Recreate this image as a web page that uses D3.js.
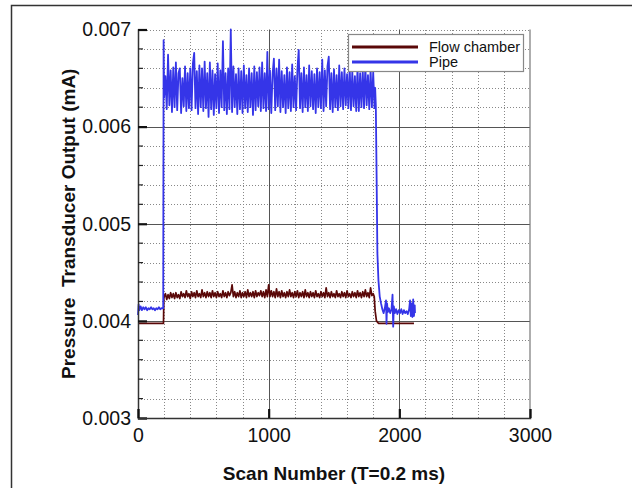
<!DOCTYPE html>
<html>
<head>
<meta charset="utf-8">
<script src="https://cdn.jsdelivr.net/npm/d3@7"></script>
<style>
  body { margin: 0; background: #fff; }
  svg { display: block; font-family: "Liberation Sans", Arial, sans-serif; }
  .tick text { font-size: 19.5px; fill: #111; }
  .grid-major { stroke: #555; stroke-width: 1; }
  .grid-minor { stroke: #888; stroke-width: 1; stroke-dasharray: 1,2; }
  .line { fill: none; stroke-linejoin: round; }
  .line.chamber { stroke: #5a0808; stroke-width: 1.7; }
  .line.pipe { stroke: #3535e8; stroke-width: 1.8; }
  .axis-title { font-size: 19px; font-weight: bold; fill: #111; }
  .legend text { font-size: 14.5px; fill: #111; }
</style>
</head>
<body>
<svg class="svg1" width="632" height="488"></svg>
<script>
// Tick values
const xTicks = [0, 1000, 2000, 3000];
const yTicks = [0.003, 0.004, 0.005, 0.006, 0.007];

// Flow chamber series [scan, mA]
const chamber = [
    [0,0.003975],[195,0.003975],[198,0.00424],[210,0.00428],[220,0.00422],[230,0.00427],[240,0.00423],
    [250,0.00429],[260,0.00424],[270,0.00428],[280,0.00423],[290,0.00429],[300,0.00424],[310,0.00427],
    [320,0.00423],[330,0.00430],[340,0.00425],[350,0.00428],[360,0.00424],[370,0.00431],[380,0.00425],
    [390,0.00428],[400,0.00423],[410,0.00430],[420,0.00425],[430,0.00429],[440,0.00424],[450,0.00431],
    [460,0.00425],[470,0.00428],[480,0.00424],[490,0.00432],[500,0.00425],[510,0.00429],[520,0.00424],
    [530,0.00430],[540,0.00425],[550,0.00429],[560,0.00424],[570,0.00431],[580,0.00425],[590,0.00429],
    [600,0.00424],[610,0.00430],[620,0.00425],[630,0.00428],[640,0.00424],[650,0.00431],[660,0.00425],
    [670,0.00429],[680,0.00424],[690,0.00430],[700,0.00426],[710,0.00429],[720,0.00437],[730,0.00425],
    [740,0.00430],[750,0.00424],[760,0.00429],[770,0.00425],[780,0.00431],[790,0.00424],[800,0.00429],
    [810,0.00425],[820,0.00430],[830,0.00424],[840,0.00432],[850,0.00425],[860,0.00429],[870,0.00425],
    [880,0.00430],[890,0.00424],[900,0.00431],[910,0.00425],[920,0.00429],[930,0.00426],[940,0.00431],
    [950,0.00425],[960,0.00430],[970,0.00424],[980,0.00432],[990,0.00425],[1000,0.00437],[1010,0.00425],
    [1020,0.00431],[1030,0.00425],[1040,0.00430],[1050,0.00424],[1060,0.00433],[1070,0.00425],[1080,0.00430],
    [1090,0.00424],[1100,0.00431],[1110,0.00425],[1120,0.00429],[1130,0.00424],[1140,0.00430],[1150,0.00425],
    [1160,0.00432],[1170,0.00425],[1180,0.00429],[1190,0.00424],[1200,0.00430],[1210,0.00425],[1220,0.00431],
    [1230,0.00424],[1240,0.00429],[1250,0.00425],[1260,0.00430],[1270,0.00424],[1280,0.00432],[1290,0.00425],
    [1300,0.00429],[1310,0.00424],[1320,0.00430],[1330,0.00425],[1340,0.00429],[1350,0.00424],[1360,0.00431],
    [1370,0.00425],[1380,0.00428],[1390,0.00424],[1400,0.00430],[1410,0.00425],[1420,0.00429],[1430,0.00424],
    [1440,0.00434],[1450,0.00425],[1460,0.00429],[1470,0.00424],[1480,0.00430],[1490,0.00425],[1500,0.00428],
    [1510,0.00424],[1520,0.00431],[1530,0.00425],[1540,0.00428],[1550,0.00424],[1560,0.00430],[1570,0.00425],
    [1580,0.00429],[1590,0.00424],[1600,0.00431],[1610,0.00425],[1620,0.00428],[1630,0.00424],[1640,0.00430],
    [1650,0.00425],[1660,0.00429],[1670,0.00424],[1680,0.00431],[1690,0.00425],[1700,0.00429],[1710,0.00424],
    [1720,0.00430],[1730,0.00425],[1740,0.00432],[1750,0.00425],[1760,0.00429],[1770,0.00424],[1780,0.00434],
    [1790,0.00426],[1800,0.00428],[1808,0.00425],[1815,0.00410],[1825,0.00400],[1840,0.003975],[2112,0.003975]
];

// Pipe series [scan, mA]
const pipe = [
    [0,0.00406],[5,0.00417],[10,0.00411],[20,0.00415],[30,0.00411],[40,0.00414],[50,0.00412],[60,0.00414],
    [70,0.00411],[80,0.00413],[90,0.00412],[100,0.00414],[110,0.00412],[120,0.00413],[130,0.00411],
    [140,0.00413],[150,0.00412],[160,0.00414],[170,0.00412],[180,0.00413],[193,0.00413],[196,0.00689],
    [200,0.00630],[210,0.00652],[220,0.00618],[230,0.00674],[240,0.00622],[250,0.00658],[260,0.00615],
    [270,0.00661],[280,0.00620],[290,0.00666],[300,0.00617],[310,0.00655],[320,0.00660],[330,0.00614],
    [340,0.00650],[350,0.00621],[360,0.00662],[370,0.00616],[380,0.00655],[390,0.00619],[400,0.00660],
    [410,0.00617],[420,0.00665],[430,0.00676],[440,0.00619],[450,0.00657],[460,0.00613],[470,0.00663],
    [480,0.00620],[490,0.00660],[500,0.00616],[510,0.00667],[520,0.00619],[530,0.00655],[540,0.00610],
    [550,0.00666],[560,0.00618],[570,0.00658],[580,0.00612],[590,0.00654],[600,0.00619],[610,0.00665],
    [620,0.00614],[630,0.00658],[640,0.00620],[650,0.00688],[660,0.00617],[670,0.00655],[680,0.00613],
    [690,0.00660],[700,0.00618],[710,0.00700],[720,0.00615],[730,0.00662],[740,0.00620],[750,0.00654],
    [760,0.00613],[770,0.00660],[780,0.00618],[790,0.00657],[800,0.00614],[810,0.00663],[820,0.00619],
    [830,0.00653],[840,0.00615],[850,0.00660],[860,0.00620],[870,0.00655],[880,0.00612],[890,0.00662],
    [900,0.00617],[910,0.00656],[920,0.00621],[930,0.00661],[940,0.00616],[950,0.00666],[960,0.00619],
    [970,0.00655],[980,0.00616],[990,0.00677],[1000,0.00618],[1010,0.00658],[1020,0.00614],[1030,0.00654],
    [1040,0.00670],[1050,0.00617],[1060,0.00660],[1070,0.00621],[1080,0.00669],[1090,0.00615],[1100,0.00657],
    [1110,0.00620],[1120,0.00653],[1130,0.00614],[1140,0.00661],[1150,0.00619],[1160,0.00656],[1170,0.00616],
    [1180,0.00664],[1190,0.00620],[1200,0.00652],[1210,0.00617],[1220,0.00659],[1230,0.00679],[1240,0.00619],
    [1250,0.00655],[1260,0.00615],[1270,0.00661],[1280,0.00620],[1290,0.00653],[1300,0.00616],[1310,0.00663],
    [1320,0.00621],[1330,0.00657],[1340,0.00618],[1350,0.00654],[1360,0.00614],[1370,0.00660],[1380,0.00620],
    [1390,0.00656],[1400,0.00619],[1410,0.00669],[1420,0.00616],[1430,0.00658],[1440,0.00621],[1450,0.00662],
    [1460,0.00672],[1470,0.00618],[1480,0.00655],[1490,0.00615],[1500,0.00659],[1510,0.00620],[1520,0.00653],
    [1530,0.00617],[1540,0.00663],[1550,0.00621],[1560,0.00656],[1570,0.00618],[1580,0.00660],[1590,0.00622],
    [1600,0.00654],[1610,0.00619],[1620,0.00662],[1630,0.00617],[1640,0.00657],[1650,0.00621],[1660,0.00652],
    [1670,0.00616],[1680,0.00661],[1690,0.00616],[1700,0.00655],[1710,0.00620],[1720,0.00658],[1730,0.00619],
    [1740,0.00663],[1750,0.00622],[1760,0.00653],[1770,0.00618],[1780,0.00659],[1790,0.00620],[1800,0.00656],
    [1810,0.00619],[1815,0.00640],[1820,0.00622],[1826,0.00550],[1832,0.00470],[1840,0.00442],[1850,0.00425],
    [1860,0.00418],[1870,0.00412],[1880,0.00408],[1890,0.00414],[1898,0.00421],[1902,0.00397],[1906,0.00418],
    [1912,0.00409],[1920,0.00413],[1930,0.00408],[1940,0.00412],[1948,0.00427],[1953,0.00394],[1958,0.00415],
    [1965,0.00408],[1975,0.00412],[1985,0.00407],[1995,0.00411],[2005,0.00408],[2015,0.00412],[2025,0.00407],
    [2035,0.00411],[2045,0.00408],[2055,0.00410],[2065,0.00407],[2075,0.00412],[2082,0.00421],[2088,0.00405],
    [2094,0.00418],[2100,0.00404],[2106,0.00422],[2112,0.00405],[2118,0.00416],[2120,0.00408]
];

const svg = d3.select(".svg1");

const x = d3.scaleLinear().domain([0, 3000]).range([138, 530]);
const y = d3.scaleLinear().domain([0.003, 0.007]).range([418, 29.5]);

// outer frame
svg.append("rect")
    .attr("x", 11.5).attr("y", 5.5)
    .attr("width", 640).attr("height", 500)
    .attr("fill", "none").attr("stroke", "#333").attr("stroke-width", 1.5);

// minor grid
const xMinor = x.ticks(15).filter(d => xTicks.indexOf(d) < 0);
const yMinor = y.ticks(20).filter(d => !yTicks.some(t => Math.abs(t - d) < 1e-9));

svg.selectAll(".gx-minor").data(xMinor).enter().append("line")
    .attr("class", "grid-minor")
    .attr("x1", d => Math.round(x(d)) + 0.5).attr("x2", d => Math.round(x(d)) + 0.5)
    .attr("y1", y(0.003)).attr("y2", y(0.007));

svg.selectAll(".gy-minor").data(yMinor.concat([0.007])).enter().append("line")
    .attr("class", "grid-minor")
    .attr("x1", x(0)).attr("x2", x(3000))
    .attr("y1", d => Math.round(y(d)) + 0.5).attr("y2", d => Math.round(y(d)) + 0.5);

// major grid
svg.selectAll(".gx-major").data([1000, 2000]).enter().append("line")
    .attr("class", "grid-major")
    .attr("x1", d => Math.round(x(d)) + 0.5).attr("x2", d => Math.round(x(d)) + 0.5)
    .attr("y1", y(0.003)).attr("y2", y(0.007));

svg.selectAll(".gy-major").data([0.004, 0.005, 0.006]).enter().append("line")
    .attr("class", "grid-major")
    .attr("x1", x(0)).attr("x2", x(3000))
    .attr("y1", d => Math.round(y(d)) + 0.5).attr("y2", d => Math.round(y(d)) + 0.5);

// right border
svg.append("line")
    .attr("x1", x(3000)).attr("x2", x(3000))
    .attr("y1", y(0.003)).attr("y2", y(0.007))
    .attr("stroke", "#777").attr("stroke-width", 1.2);

// series
const line = d3.line()
    .x(d => x(d[0]))
    .y(d => y(d[1]));

svg.append("path")
    .datum(chamber)
    .attr("class", "line chamber")
    .attr("d", line);

svg.append("path")
    .datum(pipe)
    .attr("class", "line pipe")
    .attr("d", line);

// axes
const yAxis = svg.append("g")
    .attr("transform", `translate(${x(0)},0)`)
    .call(d3.axisLeft(y).tickValues(yTicks).tickFormat(d3.format(".3f")).tickSize(-9).tickPadding(7));
yAxis.select(".domain").attr("stroke", "#333").attr("stroke-width", 1.5);
yAxis.selectAll(".tick line").attr("stroke", "#111").attr("stroke-width", 2.2);

const xAxis = svg.append("g")
    .attr("transform", `translate(0,${y(0.003)})`)
    .call(d3.axisBottom(x).tickValues(xTicks).tickFormat(d3.format("d")).tickSize(-9).tickPadding(10));
xAxis.select(".domain").attr("stroke", "#333").attr("stroke-width", 1.5);
xAxis.selectAll(".tick line").attr("stroke", "#111").attr("stroke-width", 2.2);

// minor ticks on left axis
svg.selectAll(".ytick-minor").data(yMinor).enter().append("line")
    .attr("x1", x(0)).attr("x2", x(0) + 5)
    .attr("y1", d => y(d)).attr("y2", d => y(d))
    .attr("stroke", "#222").attr("stroke-width", 1.2);

// axis titles
svg.append("text")
    .attr("class", "axis-title")
    .attr("x", (x(0) + x(3000)) / 2)
    .attr("y", 480)
    .attr("text-anchor", "middle")
    .text("Scan Number (T=0.2 ms)");

svg.append("text")
    .attr("class", "axis-title")
    .attr("transform", `translate(75,${(y(0.003) + y(0.007)) / 2}) rotate(-90)`)
    .attr("text-anchor", "middle")
    .attr("xml:space", "preserve")
    .style("white-space", "pre")
    .text("Pressure  Transducer Output (mA)");

// legend
const legend = svg.append("g").attr("class", "legend");
legend.append("rect")
    .attr("x", 348.5).attr("y", 34.5).attr("width", 175).attr("height", 37)
    .attr("fill", "#fff").attr("stroke", "#888").attr("stroke-width", 1.2);
legend.append("line").attr("x1", 352).attr("x2", 418).attr("y1", 47).attr("y2", 47)
    .attr("stroke", "#5a0808").attr("stroke-width", 2.8);
legend.append("line").attr("x1", 352).attr("x2", 418).attr("y1", 62).attr("y2", 62)
    .attr("stroke", "#3535e8").attr("stroke-width", 2.8);
legend.append("text").attr("x", 429).attr("y", 52).text("Flow chamber");
legend.append("text").attr("x", 429).attr("y", 67).text("Pipe");
</script>
</body>
</html>
